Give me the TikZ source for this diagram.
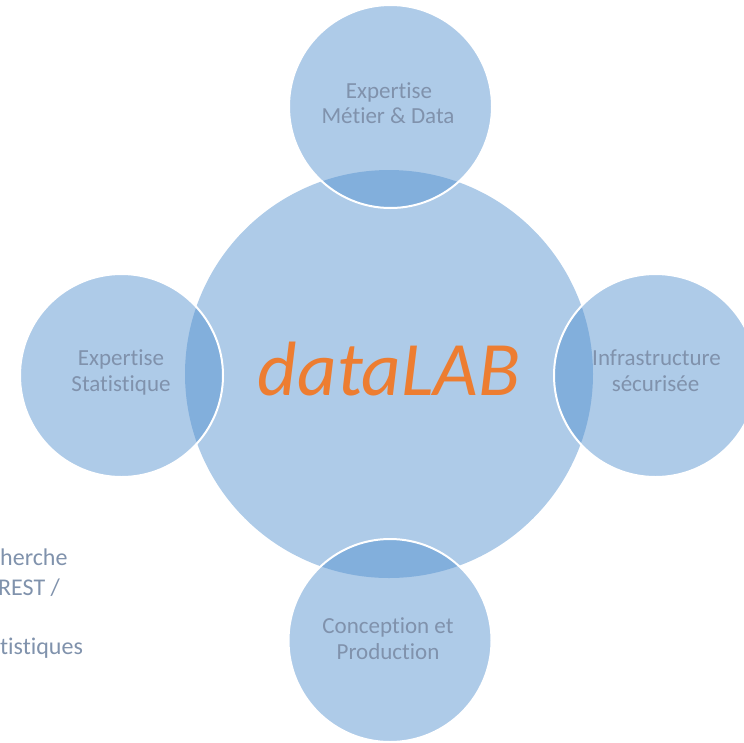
\documentclass[tikz,border=0pt]{standalone}
\usepackage{fontspec}
\setmainfont[Ligatures={NoCommon}]{Carlito}
\definecolor{circfill}{RGB}{82,144,206}
\definecolor{labgrey}{RGB}{128,146,172}
\definecolor{laborange}{RGB}{237,125,49}
\tikzset{
  bubble/.style={circle, inner sep=0pt, fill=circfill, fill opacity=0.47},
  satellite/.style={bubble, minimum size=203pt, draw=white, draw opacity=1, line width=2pt},
  satlabel/.style={anchor=base, text=labgrey, font=\fontsize{23}{26}\selectfont, inner sep=0pt},
  sidelabel/.style={anchor=base west, text=labgrey, font=\fontsize{24}{28}\selectfont, inner sep=0pt}
}
\begin{document}
\begin{tikzpicture}[x=1pt,y=-1pt]
\useasboundingbox (0,0) rectangle (744,742);
\clip (0,0) rectangle (744,742);
% partial text at left
\node[sidelabel] (t1) at (0,565) {herche};
\node[sidelabel] (t2) at (-2,595) {REST /};
\node[sidelabel] (t3) at (0,654) {tistiques};
% central circle
\node[bubble, minimum size=408pt] (center) at (389,374) {};
% satellites
\node[satellite] (top) at (390.5,106.5) {};
\node[satellite] (left) at (121.5,375.5) {};
\node[satellite] (right) at (655.5,375.5) {};
\node[satellite] (bottom) at (390,640.5) {};
% labels
\node[satlabel] (top1) at (389,98) {Expertise};
\node[satlabel] (top2) at (388,123) {Métier \& Data};
\node[satlabel] (left1) at (121,365) {Expertise};
\node[satlabel] (left2) at (121,391) {Statistique};
\node[satlabel] (right1) at (656.5,365) {Infrastructure};
\node[satlabel] (right2) at (655.5,391) {sécurisée};
\node[satlabel] (bot1) at (388,633) {Conception et};
\node[satlabel] (bot2) at (388,659) {Production};
\node[anchor=base, inner sep=0pt, text=laborange, font=\fontsize{77}{82}\selectfont\itshape] (lab) at (389,395) {dataLAB};
\end{tikzpicture}
\end{document}
